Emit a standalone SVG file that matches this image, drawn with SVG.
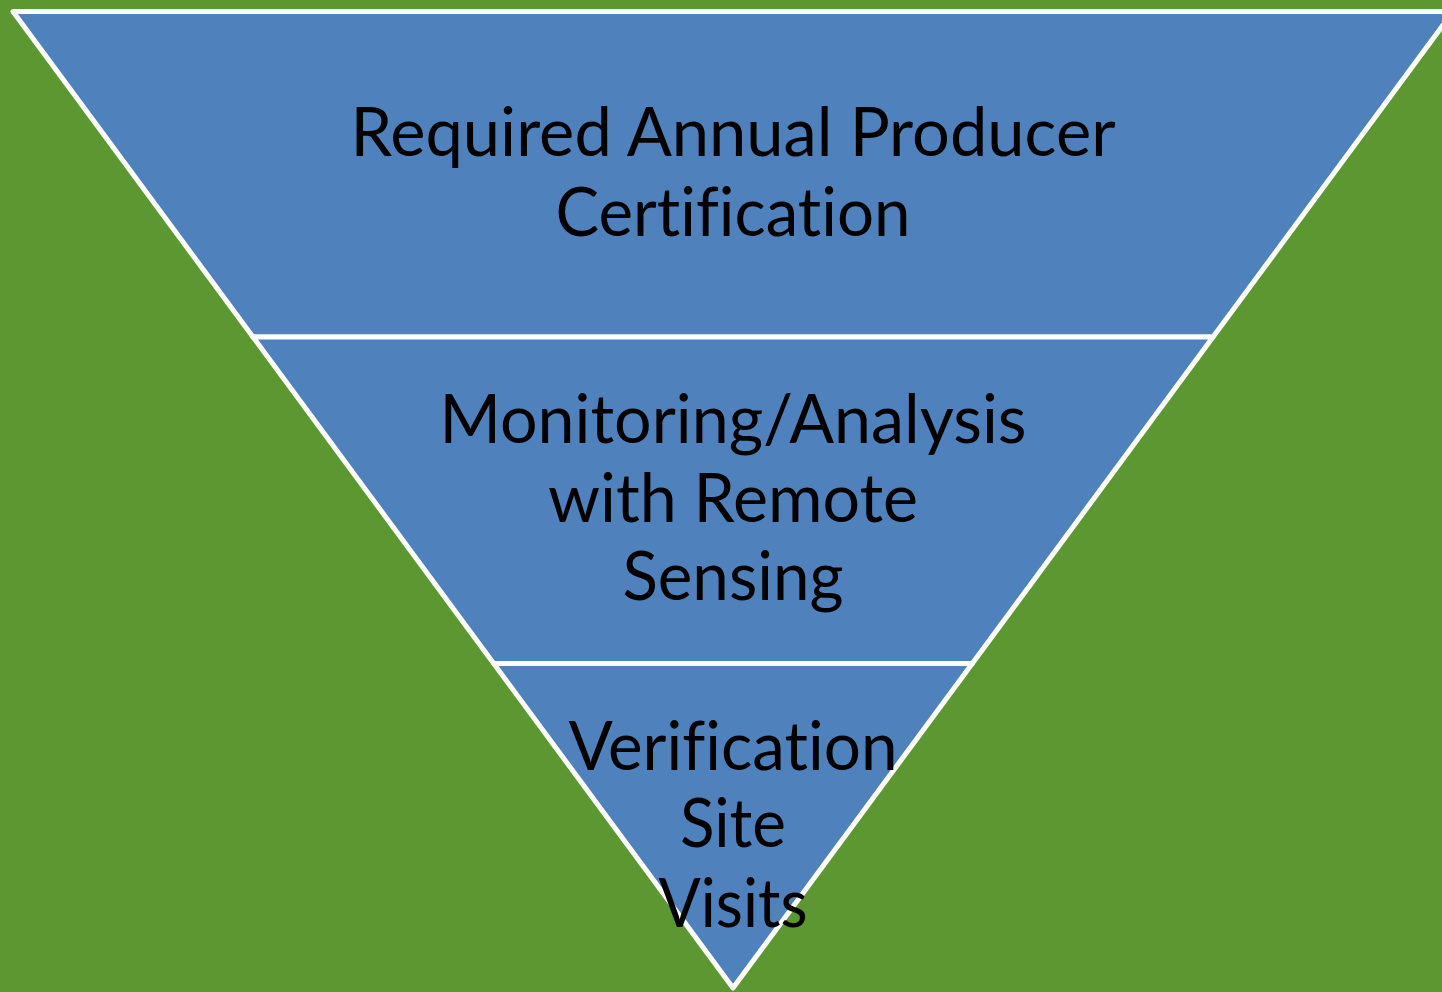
<svg xmlns="http://www.w3.org/2000/svg" width="1442" height="992" viewBox="0 0 1442 992">
<style>
.seg{fill:#4F81BD;stroke:#FFFFFF;stroke-width:5;stroke-linejoin:round}
.t{font-family:Lato,"Open Sans","Liberation Sans",sans-serif;font-size:67px;fill:#000;text-anchor:middle;font-variant-ligatures:none;font-feature-settings:"liga" 0}
</style>
<rect x="0" y="0" width="1442" height="992" fill="#5D9732"/>
<g id="level1">
<polygon class="seg" points="13,11.5 1453,11.5 1213,337 253,337"/>
<text class="t" x="733" y="156" textLength="765" lengthAdjust="spacingAndGlyphs">Required Annual Producer</text>
<text class="t" x="733" y="236" textLength="355" lengthAdjust="spacingAndGlyphs">Certification</text>
</g>
<g id="level2">
<polygon class="seg" points="253,337 1213,337 972.3,663.5 493.7,663.5"/>
<text class="t" x="733" y="443" textLength="587" lengthAdjust="spacingAndGlyphs">Monitoring/Analysis</text>
<text class="t" x="733" y="522" textLength="370" lengthAdjust="spacingAndGlyphs">with Remote</text>
<text class="t" x="733" y="600" textLength="221" lengthAdjust="spacingAndGlyphs">Sensing</text>
</g>
<g id="level3">
<polygon class="seg" points="493.7,663.5 972.3,663.5 733,988"/>
<text class="t" x="733" y="770" textLength="329" lengthAdjust="spacingAndGlyphs">Verification</text>
<text class="t" x="733" y="847" textLength="106" lengthAdjust="spacingAndGlyphs">Site</text>
<text class="t" x="733" y="927" textLength="149" lengthAdjust="spacingAndGlyphs">Visits</text>
</g>
<g id="connectors"></g>
</svg>
